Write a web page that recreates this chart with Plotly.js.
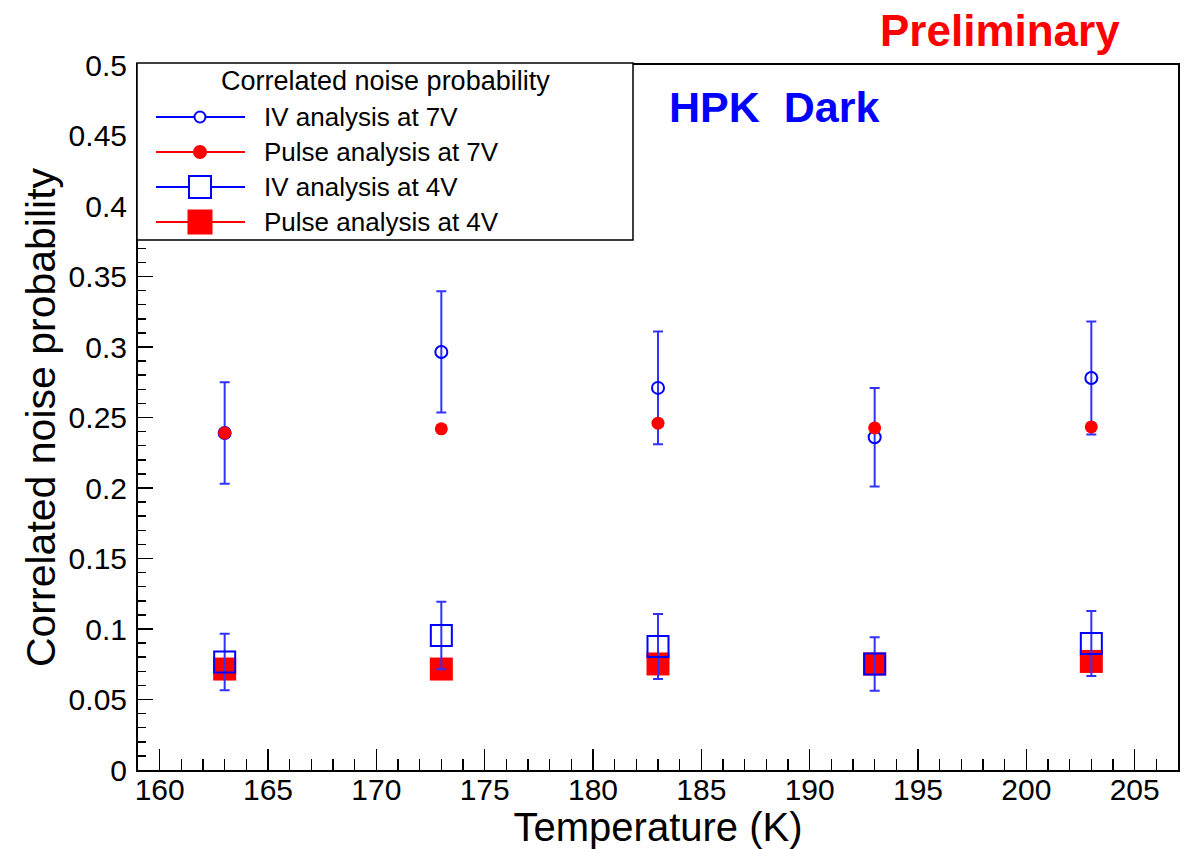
<!DOCTYPE html>
<html>
<head>
<meta charset="utf-8">
<script src="https://cdn.plot.ly/plotly-3.0.1.min.js"></script>
<style>
  html, body { margin: 0; padding: 0; background: #ffffff; }
  #chart { width: 1191px; height: 849px; }
</style>
</head>
<body>
<div id="chart"></div>
<script>
// ---- Data ----
const temperatureK = [163, 173, 183, 193, 203];

const ivAt7V      = [0.239, 0.2965, 0.271, 0.236, 0.278];
const ivAt7VErr   = [0.036, 0.043, 0.040, 0.035, 0.040];
const pulseAt7V   = [0.239, 0.242, 0.246, 0.2426, 0.2433];

const ivAt4V      = [0.0766, 0.0954, 0.0876, 0.0752, 0.0897];
const ivAt4VErr   = [0.020, 0.024, 0.023, 0.019, 0.023];
const pulseAt4V   = [0.0716, 0.0716, 0.0752, 0.0752, 0.077];

const seriesNames = [
  "IV analysis at 7V",
  "Pulse analysis at 7V",
  "IV analysis at 4V",
  "Pulse analysis at 4V"
];
const legendTitle = "Correlated noise probability";
const xTitle = "Temperature (K)";
const yTitle = "Correlated noise probability";
const labelPreliminary = "Preliminary";
const labelDevice = "HPK  Dark";

// ---- Styling ----
const BLUE = "#0000ff";
const RED = "#ff0000";
const ERR_BLUE = "rgb(50,50,255)";
const FONT = "Liberation Sans, Arial, Helvetica, sans-serif";

const W = 1191, H = 849;
const M = { l: 138, r: 13, t: 65, b: 79 };
const plotW = W - M.l - M.r, plotH = H - M.t - M.b;
const px2x = p => (p - M.l) / plotW;
const px2y = p => (H - M.b - p) / plotH;

const errStyle = (arr) => ({
  type: "data", array: arr, visible: true,
  color: ERR_BLUE, thickness: 2, width: 5
});

const traces = [
  {
    name: seriesNames[0], x: temperatureK, y: ivAt7V, type: "scatter", mode: "markers",
    marker: { symbol: "circle-open", size: 12, color: BLUE, line: { color: BLUE, width: 2 } },
    error_y: errStyle(ivAt7VErr), showlegend: false
  },
  {
    name: seriesNames[1], x: temperatureK, y: pulseAt7V, type: "scatter", mode: "markers",
    marker: { symbol: "circle", size: 13, color: RED, line: { width: 0 } },
    showlegend: false
  },
  {
    name: seriesNames[3], x: temperatureK, y: pulseAt4V, type: "scatter", mode: "markers",
    marker: { symbol: "square", size: 23, color: RED, line: { width: 0 } },
    showlegend: false
  },
  {
    name: seriesNames[2], x: temperatureK, y: ivAt4V, type: "scatter", mode: "markers",
    marker: { symbol: "square-open", size: 21, color: BLUE, line: { color: BLUE, width: 2 } },
    error_y: errStyle(ivAt4VErr), showlegend: false
  }
];

// ---- ROOT-style legend box (shapes + text) ----
const legBox = { x0: 137, x1: 633, y0: 63, y1: 240 };
const rowY = [117, 152, 187, 222];
const symX0 = 156, symX1 = 245, symXc = 200, textX = 262;
const legendSymbols = [
  { color: BLUE, kind: "circle", size: 11, fill: "#ffffff" },
  { color: RED,  kind: "circle", size: 12, fill: RED },
  { color: BLUE, kind: "square", size: 22, fill: "#ffffff" },
  { color: RED,  kind: "square", size: 23, fill: RED }
];

const shapes = [
  {
    type: "rect", xref: "paper", yref: "paper", layer: "above",
    x0: px2x(legBox.x0), x1: px2x(legBox.x1), y0: px2y(legBox.y1), y1: px2y(legBox.y0),
    fillcolor: "#ffffff", line: { color: "#000000", width: 1.5 }
  }
];
const annotations = [
  {
    xref: "paper", yref: "paper", x: px2x((legBox.x0 + legBox.x1) / 2), y: px2y(81),
    text: legendTitle, showarrow: false, xanchor: "center", yanchor: "middle",
    font: { family: FONT, size: 27, color: "#000000" }
  }
];
seriesNames.forEach((nm, i) => {
  const s = legendSymbols[i];
  const cy = rowY[i];
  shapes.push({
    type: "line", xref: "paper", yref: "paper", layer: "above",
    x0: px2x(symX0), x1: px2x(symX1), y0: px2y(cy), y1: px2y(cy),
    line: { color: s.color, width: 2 }
  });
  const h = s.size / 2;
  shapes.push({
    type: s.kind === "circle" ? "circle" : "rect", xref: "paper", yref: "paper", layer: "above",
    x0: px2x(symXc - h), x1: px2x(symXc + h), y0: px2y(cy + h), y1: px2y(cy - h),
    fillcolor: s.fill, line: { color: s.color, width: 2 }
  });
  annotations.push({
    xref: "paper", yref: "paper", x: px2x(textX), y: px2y(cy),
    text: nm, showarrow: false, xanchor: "left", yanchor: "middle",
    font: { family: FONT, size: 26, color: "#000000" }
  });
});

annotations.push({
  xref: "paper", yref: "paper", x: px2x(1000), y: px2y(30),
  text: "<b>" + labelPreliminary + "</b>", showarrow: false, xanchor: "center", yanchor: "middle",
  font: { family: FONT, size: 44, color: RED }
});
annotations.push({
  xref: "paper", yref: "paper", x: px2x(774), y: px2y(107),
  text: "<b>" + labelDevice + "</b>", showarrow: false, xanchor: "center", yanchor: "middle",
  font: { family: FONT, size: 43, color: BLUE }
});

const layout = {
  width: W, height: H,
  margin: M,
  paper_bgcolor: "#ffffff", plot_bgcolor: "#ffffff",
  showlegend: false,
  font: { family: FONT, color: "#000000" },
  xaxis: {
    range: [159, 207], autorange: false,
    tick0: 160, dtick: 5, ticks: "inside", ticklen: 21, tickwidth: 1.5, tickcolor: "#000000",
    minor: { dtick: 1, ticks: "inside", ticklen: 11, tickwidth: 1.5, tickcolor: "#000000", showgrid: false },
    showgrid: false, zeroline: false,
    showline: true, linecolor: "#000000", linewidth: 2, mirror: true,
    tickfont: { family: FONT, size: 30, color: "#000000" },
    ticklabelstandoff: -8,
    title: { text: xTitle, font: { family: FONT, size: 40, color: "#000000" }, standoff: 3 },
    automargin: false
  },
  yaxis: {
    range: [0, 0.5], autorange: false,
    tick0: 0, dtick: 0.05, ticks: "inside", ticklen: 15, tickwidth: 1.5, tickcolor: "#000000",
    minor: { dtick: 0.01, ticks: "inside", ticklen: 8, tickwidth: 1.5, tickcolor: "#000000", showgrid: false },
    showgrid: false, zeroline: false,
    showline: true, linecolor: "#000000", linewidth: 2, mirror: true,
    tickfont: { family: FONT, size: 30, color: "#000000" },
    ticklabelstandoff: 3,
    title: { text: yTitle, font: { family: FONT, size: 41, color: "#000000" }, standoff: 0 },
    automargin: false
  },
  shapes: shapes,
  annotations: annotations
};

Plotly.newPlot("chart", traces, layout, { staticPlot: true, displayModeBar: false });
</script>
</body>
</html>
